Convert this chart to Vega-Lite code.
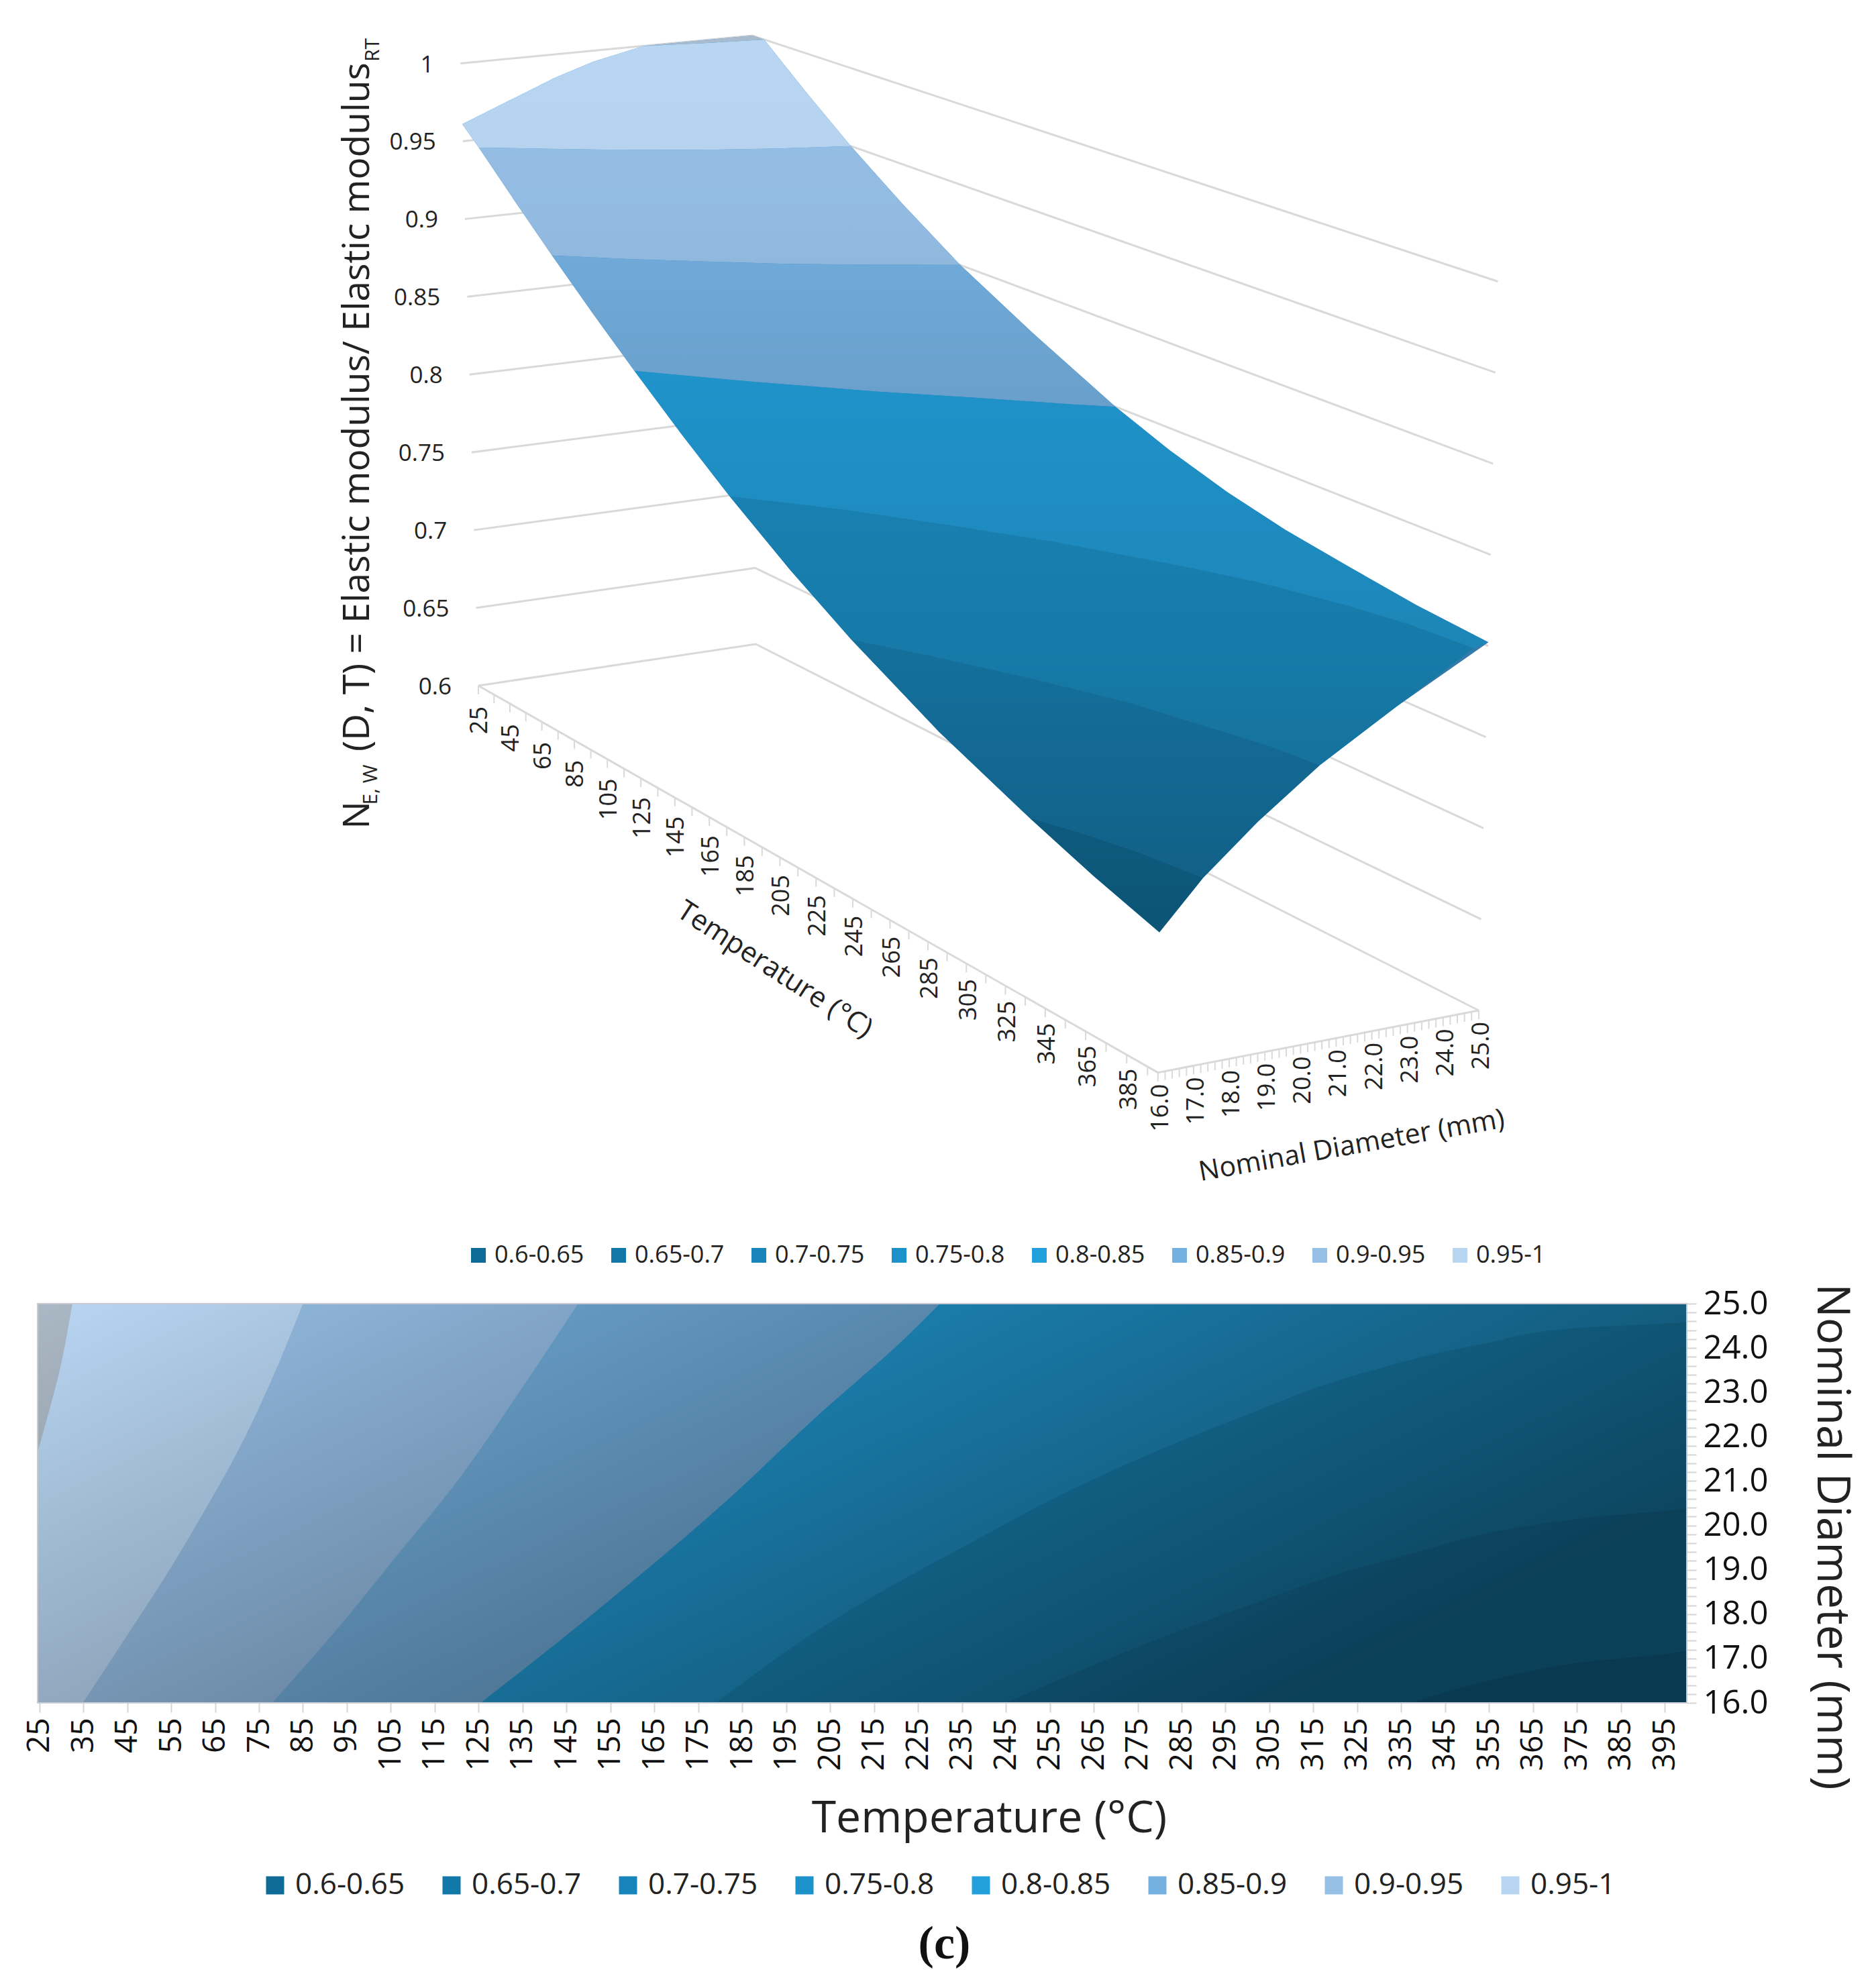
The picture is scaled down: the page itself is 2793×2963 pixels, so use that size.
{
"$schema":"https://vega.github.io/schema/vega-lite/v6.json",
"padding":{"left":35,"top":0,"right":0,"bottom":0},
"autosize":{"type":"pad"},
"background":"white",
"bounds":"flush",
"spacing":43,
"config":{"font":"Open Sans","view":{"stroke":null},"concat":{"spacing":43}},
"datasets":{
"contours":[
{"band":"0.65-0.7","diameter":16,"temperature":400},{"band":"0.65-0.7","diameter":25,"temperature":400},
{"band":"0.7-0.75","diameter":16,"temperature":337},{"band":"0.7-0.75","diameter":16.27,"temperature":346},{"band":"0.7-0.75","diameter":16.5,"temperature":355},{"band":"0.7-0.75","diameter":16.9,"temperature":375},{"band":"0.7-0.75","diameter":17.2,"temperature":400},{"band":"0.7-0.75","diameter":25,"temperature":400},
{"band":"0.75-0.8","diameter":16,"temperature":245},{"band":"0.75-0.8","diameter":17,"temperature":268.6},{"band":"0.75-0.8","diameter":18.17,"temperature":299.6},{"band":"0.75-0.8","diameter":19.22,"temperature":332},{"band":"0.75-0.8","diameter":20.2,"temperature":380},{"band":"0.75-0.8","diameter":20.4,"temperature":400},{"band":"0.75-0.8","diameter":25,"temperature":400},
{"band":"0.8-0.85","diameter":16,"temperature":179},{"band":"0.8-0.85","diameter":18,"temperature":208},{"band":"0.8-0.85","diameter":19.5,"temperature":235},{"band":"0.8-0.85","diameter":21,"temperature":264},{"band":"0.8-0.85","diameter":22.5,"temperature":300},{"band":"0.8-0.85","diameter":23.4,"temperature":325},{"band":"0.8-0.85","diameter":24.1,"temperature":354},{"band":"0.8-0.85","diameter":24.45,"temperature":375},{"band":"0.8-0.85","diameter":24.6,"temperature":400},{"band":"0.8-0.85","diameter":25,"temperature":400},
{"band":"0.85-0.9","diameter":16,"temperature":125.5},{"band":"0.85-0.9","diameter":18.2,"temperature":153.4},{"band":"0.85-0.9","diameter":20.5,"temperature":180.8},{"band":"0.85-0.9","diameter":22.4,"temperature":201.3},{"band":"0.85-0.9","diameter":24.2,"temperature":221.8},{"band":"0.85-0.9","diameter":25,"temperature":230},
{"band":"0.9-0.95","diameter":16,"temperature":78},{"band":"0.9-0.95","diameter":17.7,"temperature":93.1},{"band":"0.9-0.95","diameter":19.2,"temperature":105.4},{"band":"0.9-0.95","diameter":21.05,"temperature":120.5},{"band":"0.9-0.95","diameter":23,"temperature":134.2},{"band":"0.9-0.95","diameter":25,"temperature":147.6},
{"band":"0.95-1","diameter":16,"temperature":34.9},{"band":"0.95-1","diameter":17.6,"temperature":45.5},{"band":"0.95-1","diameter":18.9,"temperature":54},{"band":"0.95-1","diameter":20.4,"temperature":63},{"band":"0.95-1","diameter":21.6,"temperature":69.8},{"band":"0.95-1","diameter":23.2,"temperature":77.5},{"band":"0.95-1","diameter":25,"temperature":85},
{"band":"above 1","diameter":21.65,"temperature":24.6},{"band":"above 1","diameter":22.5,"temperature":27},{"band":"above 1","diameter":23.4,"temperature":29.4},{"band":"above 1","diameter":25,"temperature":32.5}
],
"surface3d":[
{"kind":"grid","line":"z0.6","seq":1,"temperature":25,"diameter":16,"ne":0.6},{"kind":"grid","line":"z0.6","seq":2,"temperature":25,"diameter":25,"ne":0.6},{"kind":"grid","line":"z0.6","seq":3,"temperature":400,"diameter":25,"ne":0.6},
{"kind":"grid","line":"z0.65","seq":1,"temperature":25,"diameter":16,"ne":0.65},{"kind":"grid","line":"z0.65","seq":2,"temperature":25,"diameter":25,"ne":0.65},{"kind":"grid","line":"z0.65","seq":3,"temperature":400,"diameter":25,"ne":0.65},
{"kind":"grid","line":"z0.7","seq":1,"temperature":25,"diameter":16,"ne":0.7},{"kind":"grid","line":"z0.7","seq":2,"temperature":25,"diameter":25,"ne":0.7},{"kind":"grid","line":"z0.7","seq":3,"temperature":400,"diameter":25,"ne":0.7},
{"kind":"grid","line":"z0.75","seq":1,"temperature":25,"diameter":16,"ne":0.75},{"kind":"grid","line":"z0.75","seq":2,"temperature":25,"diameter":25,"ne":0.75},{"kind":"grid","line":"z0.75","seq":3,"temperature":400,"diameter":25,"ne":0.75},
{"kind":"grid","line":"z0.8","seq":1,"temperature":25,"diameter":16,"ne":0.8},{"kind":"grid","line":"z0.8","seq":2,"temperature":25,"diameter":25,"ne":0.8},{"kind":"grid","line":"z0.8","seq":3,"temperature":400,"diameter":25,"ne":0.8},
{"kind":"grid","line":"z0.85","seq":1,"temperature":25,"diameter":16,"ne":0.85},{"kind":"grid","line":"z0.85","seq":2,"temperature":25,"diameter":25,"ne":0.85},{"kind":"grid","line":"z0.85","seq":3,"temperature":400,"diameter":25,"ne":0.85},
{"kind":"grid","line":"z0.9","seq":1,"temperature":25,"diameter":16,"ne":0.9},{"kind":"grid","line":"z0.9","seq":2,"temperature":25,"diameter":25,"ne":0.9},{"kind":"grid","line":"z0.9","seq":3,"temperature":400,"diameter":25,"ne":0.9},
{"kind":"grid","line":"z0.95","seq":1,"temperature":25,"diameter":16,"ne":0.95},{"kind":"grid","line":"z0.95","seq":2,"temperature":25,"diameter":25,"ne":0.95},{"kind":"grid","line":"z0.95","seq":3,"temperature":400,"diameter":25,"ne":0.95},
{"kind":"grid","line":"z1","seq":1,"temperature":25,"diameter":16,"ne":1},{"kind":"grid","line":"z1","seq":2,"temperature":25,"diameter":25,"ne":1},{"kind":"grid","line":"z1","seq":3,"temperature":400,"diameter":25,"ne":1},
{"kind":"grid","line":"axes","seq":1,"temperature":25,"diameter":16,"ne":0.6},{"kind":"grid","line":"axes","seq":2,"temperature":400,"diameter":16,"ne":0.6},{"kind":"grid","line":"axes","seq":3,"temperature":400,"diameter":25,"ne":0.6},

{"kind":"tick","temperature":25,"diameter":16,"ne":0.6},{"kind":"tick","temperature":35,"diameter":16,"ne":0.6},{"kind":"tick","temperature":45,"diameter":16,"ne":0.6},{"kind":"tick","temperature":55,"diameter":16,"ne":0.6},{"kind":"tick","temperature":65,"diameter":16,"ne":0.6},{"kind":"tick","temperature":75,"diameter":16,"ne":0.6},{"kind":"tick","temperature":85,"diameter":16,"ne":0.6},{"kind":"tick","temperature":95,"diameter":16,"ne":0.6},{"kind":"tick","temperature":105,"diameter":16,"ne":0.6},{"kind":"tick","temperature":115,"diameter":16,"ne":0.6},{"kind":"tick","temperature":125,"diameter":16,"ne":0.6},{"kind":"tick","temperature":135,"diameter":16,"ne":0.6},{"kind":"tick","temperature":145,"diameter":16,"ne":0.6},{"kind":"tick","temperature":155,"diameter":16,"ne":0.6},{"kind":"tick","temperature":165,"diameter":16,"ne":0.6},{"kind":"tick","temperature":175,"diameter":16,"ne":0.6},{"kind":"tick","temperature":185,"diameter":16,"ne":0.6},{"kind":"tick","temperature":195,"diameter":16,"ne":0.6},{"kind":"tick","temperature":205,"diameter":16,"ne":0.6},{"kind":"tick","temperature":215,"diameter":16,"ne":0.6},{"kind":"tick","temperature":225,"diameter":16,"ne":0.6},{"kind":"tick","temperature":235,"diameter":16,"ne":0.6},{"kind":"tick","temperature":245,"diameter":16,"ne":0.6},{"kind":"tick","temperature":255,"diameter":16,"ne":0.6},{"kind":"tick","temperature":265,"diameter":16,"ne":0.6},{"kind":"tick","temperature":275,"diameter":16,"ne":0.6},{"kind":"tick","temperature":285,"diameter":16,"ne":0.6},{"kind":"tick","temperature":295,"diameter":16,"ne":0.6},{"kind":"tick","temperature":305,"diameter":16,"ne":0.6},{"kind":"tick","temperature":315,"diameter":16,"ne":0.6},{"kind":"tick","temperature":325,"diameter":16,"ne":0.6},{"kind":"tick","temperature":335,"diameter":16,"ne":0.6},{"kind":"tick","temperature":345,"diameter":16,"ne":0.6},{"kind":"tick","temperature":355,"diameter":16,"ne":0.6},{"kind":"tick","temperature":365,"diameter":16,"ne":0.6},{"kind":"tick","temperature":375,"diameter":16,"ne":0.6},{"kind":"tick","temperature":385,"diameter":16,"ne":0.6},{"kind":"tick","temperature":395,"diameter":16,"ne":0.6},
{"kind":"tick","temperature":400,"diameter":16,"ne":0.6},{"kind":"tick","temperature":400,"diameter":16.2,"ne":0.6},{"kind":"tick","temperature":400,"diameter":16.4,"ne":0.6},{"kind":"tick","temperature":400,"diameter":16.6,"ne":0.6},{"kind":"tick","temperature":400,"diameter":16.8,"ne":0.6},{"kind":"tick","temperature":400,"diameter":17,"ne":0.6},{"kind":"tick","temperature":400,"diameter":17.2,"ne":0.6},{"kind":"tick","temperature":400,"diameter":17.4,"ne":0.6},{"kind":"tick","temperature":400,"diameter":17.6,"ne":0.6},{"kind":"tick","temperature":400,"diameter":17.8,"ne":0.6},{"kind":"tick","temperature":400,"diameter":18,"ne":0.6},{"kind":"tick","temperature":400,"diameter":18.2,"ne":0.6},{"kind":"tick","temperature":400,"diameter":18.4,"ne":0.6},{"kind":"tick","temperature":400,"diameter":18.6,"ne":0.6},{"kind":"tick","temperature":400,"diameter":18.8,"ne":0.6},{"kind":"tick","temperature":400,"diameter":19,"ne":0.6},{"kind":"tick","temperature":400,"diameter":19.2,"ne":0.6},{"kind":"tick","temperature":400,"diameter":19.4,"ne":0.6},{"kind":"tick","temperature":400,"diameter":19.6,"ne":0.6},{"kind":"tick","temperature":400,"diameter":19.8,"ne":0.6},{"kind":"tick","temperature":400,"diameter":20,"ne":0.6},{"kind":"tick","temperature":400,"diameter":20.2,"ne":0.6},{"kind":"tick","temperature":400,"diameter":20.4,"ne":0.6},{"kind":"tick","temperature":400,"diameter":20.6,"ne":0.6},{"kind":"tick","temperature":400,"diameter":20.8,"ne":0.6},{"kind":"tick","temperature":400,"diameter":21,"ne":0.6},{"kind":"tick","temperature":400,"diameter":21.2,"ne":0.6},{"kind":"tick","temperature":400,"diameter":21.4,"ne":0.6},{"kind":"tick","temperature":400,"diameter":21.6,"ne":0.6},{"kind":"tick","temperature":400,"diameter":21.8,"ne":0.6},{"kind":"tick","temperature":400,"diameter":22,"ne":0.6},{"kind":"tick","temperature":400,"diameter":22.2,"ne":0.6},{"kind":"tick","temperature":400,"diameter":22.4,"ne":0.6},{"kind":"tick","temperature":400,"diameter":22.6,"ne":0.6},{"kind":"tick","temperature":400,"diameter":22.8,"ne":0.6},{"kind":"tick","temperature":400,"diameter":23,"ne":0.6},{"kind":"tick","temperature":400,"diameter":23.2,"ne":0.6},{"kind":"tick","temperature":400,"diameter":23.4,"ne":0.6},{"kind":"tick","temperature":400,"diameter":23.6,"ne":0.6},{"kind":"tick","temperature":400,"diameter":23.8,"ne":0.6},{"kind":"tick","temperature":400,"diameter":24,"ne":0.6},{"kind":"tick","temperature":400,"diameter":24.2,"ne":0.6},{"kind":"tick","temperature":400,"diameter":24.4,"ne":0.6},{"kind":"tick","temperature":400,"diameter":24.6,"ne":0.6},{"kind":"tick","temperature":400,"diameter":24.8,"ne":0.6},{"kind":"tick","temperature":400,"diameter":25,"ne":0.6},

{"kind":"outline","seq":1,"temperature":25,"diameter":16,"ne":0.961},{"kind":"outline","seq":2,"temperature":25,"diameter":17.7,"ne":0.975},{"kind":"outline","seq":3,"temperature":25,"diameter":18.9,"ne":0.985},{"kind":"outline","seq":4,"temperature":25,"diameter":20.1,"ne":0.993},{"kind":"outline","seq":5,"temperature":25,"diameter":21.65,"ne":1},{"kind":"outline","seq":6,"temperature":25,"diameter":25,"ne":1},{"kind":"outline","seq":7,"temperature":32.5,"diameter":25,"ne":1},{"kind":"outline","seq":8,"temperature":58,"diameter":25,"ne":0.975},{"kind":"outline","seq":9,"temperature":85,"diameter":25,"ne":0.95},{"kind":"outline","seq":10,"temperature":115,"diameter":25,"ne":0.925},{"kind":"outline","seq":11,"temperature":147.6,"diameter":25,"ne":0.9},{"kind":"outline","seq":12,"temperature":187,"diameter":25,"ne":0.875},{"kind":"outline","seq":13,"temperature":230,"diameter":25,"ne":0.85},{"kind":"outline","seq":13.5,"temperature":257,"diameter":25,"ne":0.837},{"kind":"outline","seq":14,"temperature":285,"diameter":25,"ne":0.826},{"kind":"outline","seq":14.5,"temperature":312,"diameter":25,"ne":0.818},{"kind":"outline","seq":15,"temperature":340,"diameter":25,"ne":0.812},{"kind":"outline","seq":15.5,"temperature":370,"diameter":25,"ne":0.806},{"kind":"outline","seq":16,"temperature":400,"diameter":25,"ne":0.802},{"kind":"outline","seq":17,"temperature":400,"diameter":22.5,"ne":0.775},{"kind":"outline","seq":18,"temperature":400,"diameter":20.4,"ne":0.75},{"kind":"outline","seq":19,"temperature":400,"diameter":18.7,"ne":0.725},{"kind":"outline","seq":20,"temperature":400,"diameter":17.2,"ne":0.7},{"kind":"outline","seq":21,"temperature":400,"diameter":16,"ne":0.675},{"kind":"outline","seq":22,"temperature":368.5,"diameter":16,"ne":0.6865},{"kind":"outline","seq":23,"temperature":337,"diameter":16,"ne":0.7},{"kind":"outline","seq":24,"temperature":291,"diameter":16,"ne":0.7222},{"kind":"outline","seq":25,"temperature":245,"diameter":16,"ne":0.75},{"kind":"outline","seq":26,"temperature":212,"diameter":16,"ne":0.7734},{"kind":"outline","seq":27,"temperature":179,"diameter":16,"ne":0.8},{"kind":"outline","seq":28,"temperature":152.25,"diameter":16,"ne":0.8241},{"kind":"outline","seq":29,"temperature":125.5,"diameter":16,"ne":0.85},{"kind":"outline","seq":30,"temperature":101.75,"diameter":16,"ne":0.8743},{"kind":"outline","seq":31,"temperature":78,"diameter":16,"ne":0.9},{"kind":"outline","seq":32,"temperature":56.45,"diameter":16,"ne":0.9245},{"kind":"outline","seq":33,"temperature":34.9,"diameter":16,"ne":0.95},

{"kind":"cap","seq":1,"temperature":25,"diameter":21.65,"ne":1},{"kind":"cap","seq":2,"temperature":25,"diameter":25,"ne":1},{"kind":"cap","seq":3,"temperature":32.5,"diameter":25,"ne":1},{"kind":"cap","seq":4,"temperature":29.4,"diameter":23.4,"ne":1},{"kind":"cap","seq":5,"temperature":27,"diameter":22.5,"ne":1},

{"kind":"band","band":"0.95-1","seq":1,"temperature":25,"diameter":16,"ne":0.961},{"kind":"band","band":"0.95-1","seq":2,"temperature":25,"diameter":17.7,"ne":0.975},{"kind":"band","band":"0.95-1","seq":3,"temperature":25,"diameter":18.9,"ne":0.985},{"kind":"band","band":"0.95-1","seq":4,"temperature":25,"diameter":20.1,"ne":0.993},{"kind":"band","band":"0.95-1","seq":5,"temperature":25,"diameter":21.65,"ne":1},{"kind":"band","band":"0.95-1","seq":6,"temperature":27,"diameter":22.5,"ne":1},{"kind":"band","band":"0.95-1","seq":7,"temperature":29.4,"diameter":23.4,"ne":1},{"kind":"band","band":"0.95-1","seq":8,"temperature":32.5,"diameter":25,"ne":1},{"kind":"band","band":"0.95-1","seq":9,"temperature":58,"diameter":25,"ne":0.975},{"kind":"band","band":"0.95-1","seq":10,"temperature":85,"diameter":25,"ne":0.95},{"kind":"band","band":"0.95-1","seq":11,"temperature":77.5,"diameter":23.2,"ne":0.95},{"kind":"band","band":"0.95-1","seq":12,"temperature":69.8,"diameter":21.6,"ne":0.95},{"kind":"band","band":"0.95-1","seq":13,"temperature":63,"diameter":20.4,"ne":0.95},{"kind":"band","band":"0.95-1","seq":14,"temperature":54,"diameter":18.9,"ne":0.95},{"kind":"band","band":"0.95-1","seq":15,"temperature":45.5,"diameter":17.6,"ne":0.95},{"kind":"band","band":"0.95-1","seq":16,"temperature":34.9,"diameter":16,"ne":0.95},

{"kind":"band","band":"0.9-0.95","seq":1,"temperature":34.9,"diameter":16,"ne":0.95},{"kind":"band","band":"0.9-0.95","seq":2,"temperature":45.5,"diameter":17.6,"ne":0.95},{"kind":"band","band":"0.9-0.95","seq":3,"temperature":54,"diameter":18.9,"ne":0.95},{"kind":"band","band":"0.9-0.95","seq":4,"temperature":63,"diameter":20.4,"ne":0.95},{"kind":"band","band":"0.9-0.95","seq":5,"temperature":69.8,"diameter":21.6,"ne":0.95},{"kind":"band","band":"0.9-0.95","seq":6,"temperature":77.5,"diameter":23.2,"ne":0.95},{"kind":"band","band":"0.9-0.95","seq":7,"temperature":85,"diameter":25,"ne":0.95},{"kind":"band","band":"0.9-0.95","seq":8,"temperature":115,"diameter":25,"ne":0.925},{"kind":"band","band":"0.9-0.95","seq":9,"temperature":147.6,"diameter":25,"ne":0.9},{"kind":"band","band":"0.9-0.95","seq":10,"temperature":134.2,"diameter":23,"ne":0.9},{"kind":"band","band":"0.9-0.95","seq":11,"temperature":120.5,"diameter":21.05,"ne":0.9},{"kind":"band","band":"0.9-0.95","seq":12,"temperature":105.4,"diameter":19.2,"ne":0.9},{"kind":"band","band":"0.9-0.95","seq":13,"temperature":93.1,"diameter":17.7,"ne":0.9},{"kind":"band","band":"0.9-0.95","seq":14,"temperature":78,"diameter":16,"ne":0.9},{"kind":"band","band":"0.9-0.95","seq":15,"temperature":56.45,"diameter":16,"ne":0.9245},

{"kind":"band","band":"0.85-0.9","seq":1,"temperature":78,"diameter":16,"ne":0.9},{"kind":"band","band":"0.85-0.9","seq":2,"temperature":93.1,"diameter":17.7,"ne":0.9},{"kind":"band","band":"0.85-0.9","seq":3,"temperature":105.4,"diameter":19.2,"ne":0.9},{"kind":"band","band":"0.85-0.9","seq":4,"temperature":120.5,"diameter":21.05,"ne":0.9},{"kind":"band","band":"0.85-0.9","seq":5,"temperature":134.2,"diameter":23,"ne":0.9},{"kind":"band","band":"0.85-0.9","seq":6,"temperature":147.6,"diameter":25,"ne":0.9},{"kind":"band","band":"0.85-0.9","seq":7,"temperature":187,"diameter":25,"ne":0.875},{"kind":"band","band":"0.85-0.9","seq":8,"temperature":230,"diameter":25,"ne":0.85},{"kind":"band","band":"0.85-0.9","seq":9,"temperature":221.8,"diameter":24.2,"ne":0.85},{"kind":"band","band":"0.85-0.9","seq":10,"temperature":201.3,"diameter":22.4,"ne":0.85},{"kind":"band","band":"0.85-0.9","seq":11,"temperature":180.8,"diameter":20.5,"ne":0.85},{"kind":"band","band":"0.85-0.9","seq":12,"temperature":153.4,"diameter":18.2,"ne":0.85},{"kind":"band","band":"0.85-0.9","seq":13,"temperature":125.5,"diameter":16,"ne":0.85},{"kind":"band","band":"0.85-0.9","seq":14,"temperature":101.75,"diameter":16,"ne":0.8743},

{"kind":"band","band":"0.8-0.85","seq":1,"temperature":125.5,"diameter":16,"ne":0.85},{"kind":"band","band":"0.8-0.85","seq":2,"temperature":153.4,"diameter":18.2,"ne":0.85},{"kind":"band","band":"0.8-0.85","seq":3,"temperature":180.8,"diameter":20.5,"ne":0.85},{"kind":"band","band":"0.8-0.85","seq":4,"temperature":201.3,"diameter":22.4,"ne":0.85},{"kind":"band","band":"0.8-0.85","seq":5,"temperature":221.8,"diameter":24.2,"ne":0.85},{"kind":"band","band":"0.8-0.85","seq":6,"temperature":230,"diameter":25,"ne":0.85},{"kind":"band","band":"0.8-0.85","seq":6.5,"temperature":257,"diameter":25,"ne":0.837},{"kind":"band","band":"0.8-0.85","seq":7,"temperature":285,"diameter":25,"ne":0.826},{"kind":"band","band":"0.8-0.85","seq":7.5,"temperature":312,"diameter":25,"ne":0.818},{"kind":"band","band":"0.8-0.85","seq":8,"temperature":340,"diameter":25,"ne":0.812},{"kind":"band","band":"0.8-0.85","seq":8.5,"temperature":370,"diameter":25,"ne":0.806},{"kind":"band","band":"0.8-0.85","seq":9,"temperature":400,"diameter":25,"ne":0.802},{"kind":"band","band":"0.8-0.85","seq":10,"temperature":400,"diameter":24.6,"ne":0.8},{"kind":"band","band":"0.8-0.85","seq":11,"temperature":375,"diameter":24.45,"ne":0.8},{"kind":"band","band":"0.8-0.85","seq":12,"temperature":354,"diameter":24.1,"ne":0.8},{"kind":"band","band":"0.8-0.85","seq":13,"temperature":325,"diameter":23.4,"ne":0.8},{"kind":"band","band":"0.8-0.85","seq":14,"temperature":300,"diameter":22.5,"ne":0.8},{"kind":"band","band":"0.8-0.85","seq":15,"temperature":264,"diameter":21,"ne":0.8},{"kind":"band","band":"0.8-0.85","seq":16,"temperature":235,"diameter":19.5,"ne":0.8},{"kind":"band","band":"0.8-0.85","seq":17,"temperature":208,"diameter":18,"ne":0.8},{"kind":"band","band":"0.8-0.85","seq":18,"temperature":179,"diameter":16,"ne":0.8},{"kind":"band","band":"0.8-0.85","seq":19,"temperature":152.25,"diameter":16,"ne":0.8241},

{"kind":"band","band":"0.75-0.8","seq":1,"temperature":179,"diameter":16,"ne":0.8},{"kind":"band","band":"0.75-0.8","seq":2,"temperature":208,"diameter":18,"ne":0.8},{"kind":"band","band":"0.75-0.8","seq":3,"temperature":235,"diameter":19.5,"ne":0.8},{"kind":"band","band":"0.75-0.8","seq":4,"temperature":264,"diameter":21,"ne":0.8},{"kind":"band","band":"0.75-0.8","seq":5,"temperature":300,"diameter":22.5,"ne":0.8},{"kind":"band","band":"0.75-0.8","seq":6,"temperature":325,"diameter":23.4,"ne":0.8},{"kind":"band","band":"0.75-0.8","seq":7,"temperature":354,"diameter":24.1,"ne":0.8},{"kind":"band","band":"0.75-0.8","seq":8,"temperature":375,"diameter":24.45,"ne":0.8},{"kind":"band","band":"0.75-0.8","seq":9,"temperature":400,"diameter":24.6,"ne":0.8},{"kind":"band","band":"0.75-0.8","seq":10,"temperature":400,"diameter":22.5,"ne":0.775},{"kind":"band","band":"0.75-0.8","seq":11,"temperature":400,"diameter":20.4,"ne":0.75},{"kind":"band","band":"0.75-0.8","seq":12,"temperature":380,"diameter":20.2,"ne":0.75},{"kind":"band","band":"0.75-0.8","seq":13,"temperature":332,"diameter":19.22,"ne":0.75},{"kind":"band","band":"0.75-0.8","seq":14,"temperature":299.6,"diameter":18.17,"ne":0.75},{"kind":"band","band":"0.75-0.8","seq":15,"temperature":268.6,"diameter":17,"ne":0.75},{"kind":"band","band":"0.75-0.8","seq":16,"temperature":245,"diameter":16,"ne":0.75},{"kind":"band","band":"0.75-0.8","seq":17,"temperature":212,"diameter":16,"ne":0.7734},

{"kind":"band","band":"0.7-0.75","seq":1,"temperature":245,"diameter":16,"ne":0.75},{"kind":"band","band":"0.7-0.75","seq":2,"temperature":268.6,"diameter":17,"ne":0.75},{"kind":"band","band":"0.7-0.75","seq":3,"temperature":299.6,"diameter":18.17,"ne":0.75},{"kind":"band","band":"0.7-0.75","seq":4,"temperature":332,"diameter":19.22,"ne":0.75},{"kind":"band","band":"0.7-0.75","seq":5,"temperature":380,"diameter":20.2,"ne":0.75},{"kind":"band","band":"0.7-0.75","seq":6,"temperature":400,"diameter":20.4,"ne":0.75},{"kind":"band","band":"0.7-0.75","seq":7,"temperature":400,"diameter":18.7,"ne":0.725},{"kind":"band","band":"0.7-0.75","seq":8,"temperature":400,"diameter":17.2,"ne":0.7},{"kind":"band","band":"0.7-0.75","seq":9,"temperature":375,"diameter":16.9,"ne":0.7},{"kind":"band","band":"0.7-0.75","seq":10,"temperature":355,"diameter":16.5,"ne":0.7},{"kind":"band","band":"0.7-0.75","seq":11,"temperature":346,"diameter":16.27,"ne":0.7},{"kind":"band","band":"0.7-0.75","seq":12,"temperature":337,"diameter":16,"ne":0.7},{"kind":"band","band":"0.7-0.75","seq":13,"temperature":291,"diameter":16,"ne":0.7222},

{"kind":"band","band":"0.65-0.7","seq":1,"temperature":337,"diameter":16,"ne":0.7},{"kind":"band","band":"0.65-0.7","seq":2,"temperature":346,"diameter":16.27,"ne":0.7},{"kind":"band","band":"0.65-0.7","seq":3,"temperature":355,"diameter":16.5,"ne":0.7},{"kind":"band","band":"0.65-0.7","seq":4,"temperature":375,"diameter":16.9,"ne":0.7},{"kind":"band","band":"0.65-0.7","seq":5,"temperature":400,"diameter":17.2,"ne":0.7},{"kind":"band","band":"0.65-0.7","seq":6,"temperature":400,"diameter":16,"ne":0.675},{"kind":"band","band":"0.65-0.7","seq":7,"temperature":368.5,"diameter":16,"ne":0.6865},

{"kind":"tlabel","label":"25","temperature":25,"diameter":16,"ne":0.6},{"kind":"tlabel","label":"45","temperature":45,"diameter":16,"ne":0.6},{"kind":"tlabel","label":"65","temperature":65,"diameter":16,"ne":0.6},{"kind":"tlabel","label":"85","temperature":85,"diameter":16,"ne":0.6},{"kind":"tlabel","label":"105","temperature":105,"diameter":16,"ne":0.6},{"kind":"tlabel","label":"125","temperature":125,"diameter":16,"ne":0.6},{"kind":"tlabel","label":"145","temperature":145,"diameter":16,"ne":0.6},{"kind":"tlabel","label":"165","temperature":165,"diameter":16,"ne":0.6},{"kind":"tlabel","label":"185","temperature":185,"diameter":16,"ne":0.6},{"kind":"tlabel","label":"205","temperature":205,"diameter":16,"ne":0.6},{"kind":"tlabel","label":"225","temperature":225,"diameter":16,"ne":0.6},{"kind":"tlabel","label":"245","temperature":245,"diameter":16,"ne":0.6},{"kind":"tlabel","label":"265","temperature":265,"diameter":16,"ne":0.6},{"kind":"tlabel","label":"285","temperature":285,"diameter":16,"ne":0.6},{"kind":"tlabel","label":"305","temperature":305,"diameter":16,"ne":0.6},{"kind":"tlabel","label":"325","temperature":325,"diameter":16,"ne":0.6},{"kind":"tlabel","label":"345","temperature":345,"diameter":16,"ne":0.6},{"kind":"tlabel","label":"365","temperature":365,"diameter":16,"ne":0.6},{"kind":"tlabel","label":"385","temperature":385,"diameter":16,"ne":0.6},
{"kind":"dlabel","label":"16.0","temperature":400,"diameter":16,"ne":0.6},{"kind":"dlabel","label":"17.0","temperature":400,"diameter":17,"ne":0.6},{"kind":"dlabel","label":"18.0","temperature":400,"diameter":18,"ne":0.6},{"kind":"dlabel","label":"19.0","temperature":400,"diameter":19,"ne":0.6},{"kind":"dlabel","label":"20.0","temperature":400,"diameter":20,"ne":0.6},{"kind":"dlabel","label":"21.0","temperature":400,"diameter":21,"ne":0.6},{"kind":"dlabel","label":"22.0","temperature":400,"diameter":22,"ne":0.6},{"kind":"dlabel","label":"23.0","temperature":400,"diameter":23,"ne":0.6},{"kind":"dlabel","label":"24.0","temperature":400,"diameter":24,"ne":0.6},{"kind":"dlabel","label":"25.0","temperature":400,"diameter":25,"ne":0.6},
{"kind":"zlabel","label":"0.6","temperature":25,"diameter":16,"ne":0.6},{"kind":"zlabel","label":"0.65","temperature":25,"diameter":16,"ne":0.65},{"kind":"zlabel","label":"0.7","temperature":25,"diameter":16,"ne":0.7},{"kind":"zlabel","label":"0.75","temperature":25,"diameter":16,"ne":0.75},{"kind":"zlabel","label":"0.8","temperature":25,"diameter":16,"ne":0.8},{"kind":"zlabel","label":"0.85","temperature":25,"diameter":16,"ne":0.85},{"kind":"zlabel","label":"0.9","temperature":25,"diameter":16,"ne":0.9},{"kind":"zlabel","label":"0.95","temperature":25,"diameter":16,"ne":0.95},{"kind":"zlabel","label":"1","temperature":25,"diameter":16,"ne":1},
{"kind":"ttitle","label":"Temperature (°C)","temperature":282,"diameter":11.48,"ne":0.6},
{"kind":"dtitle","label":"Nominal Diameter (mm)","temperature":466.8,"diameter":17.3,"ne":0.6},
{"kind":"ztitle","label":"N","temperature":25,"diameter":12.31,"ne":0.5196},
{"kind":"ztitle","label":"(D, T) = Elastic modulus/ Elastic modulus","temperature":25,"diameter":12.4,"ne":0.5687},
{"kind":"zsub","label":"E, W","temperature":25,"diameter":12.6,"ne":0.5341},
{"kind":"zsub","label":"RT","temperature":25,"diameter":13.49,"ne":1.006}
]
},
"vconcat":[
{
"width":2458,"height":1900,
"data":{"name":"surface3d"},
"transform":[
{"calculate":"(datum.temperature-25)/375","as":"s"},
{"calculate":"(datum.diameter-16)/9","as":"v"},
{"calculate":"(datum.ne-0.6)/0.4","as":"h"},
{"calculate":"datum.s/(datum.s+(1.157+0.093*datum.v)*(1-datum.s))","as":"u"},
{"calculate":"710.5+datum.u*1012.9+datum.v*413.5+datum.u*datum.v*64.6","as":"fx"},
{"calculate":"1022+datum.u*576.6-datum.v*62-datum.u*datum.v*30.6","as":"fy"},
{"calculate":"684+datum.u*1050.8+datum.v*434.7+datum.u*datum.v*60.5","as":"tx"},
{"calculate":"94.5+datum.u*389.3-datum.v*41.5-datum.u*datum.v*22.8","as":"ty"},
{"calculate":"datum.fx+datum.h*(datum.tx-datum.fx)","as":"sx"},
{"calculate":"datum.fy+datum.h*(datum.ty-datum.fy)","as":"sy"}
],
"encoding":{
"x":{"field":"sx","type":"quantitative","scale":{"domain":[53.6,2511.6],"nice":false,"zero":false},"axis":null},
"y":{"field":"sy","type":"quantitative","scale":{"domain":[1900,0],"nice":false,"zero":false},"axis":null}
},
"layer":[
{"transform":[{"filter":"datum.kind=='grid'"}],
 "mark":{"type":"line","stroke":"#d9d9d9","strokeWidth":3,"interpolate":"linear"},
 "encoding":{"detail":{"field":"line","type":"nominal"},"order":{"field":"seq","type":"quantitative"}}},
{"transform":[{"filter":"datum.kind=='tick'"},{"calculate":"datum.sy+13","as":"sy2"}],
 "mark":{"type":"rule","stroke":"#d9d9d9","strokeWidth":2},
 "encoding":{"y2":{"field":"sy2"}}},
{"transform":[{"filter":"datum.kind=='outline'"}],
 "mark":{"type":"line","filled":true,"fill":"#3f93cc","stroke":"transparent","strokeWidth":0},
 "encoding":{"order":{"field":"seq","type":"quantitative"}}},
{"transform":[{"filter":"datum.kind=='band'"}],
 "mark":{"type":"line","filled":true,"stroke":"transparent","strokeWidth":0},
 "encoding":{
 "fill":{"field":"band","type":"nominal","scale":{"domain":["0.6-0.65","0.65-0.7","0.7-0.75","0.75-0.8","0.8-0.85","0.85-0.9","0.9-0.95","0.95-1"],"range":["#0e6a97","#1278a8","#1885ba","#1b92c9","#22a0dc","#74b0e0","#96bfe6","#b8d5f2"]},
  "legend":{"title":null,"orient":"none","legendX":639,"legendY":1853,"direction":"horizontal","columns":8,"gridAlign":"all","columnPadding":33,"symbolType":"square","symbolSize":484,"symbolStrokeWidth":0,"labelFontSize":36,"labelFont":"Open Sans","labelColor":"#222222","labelOffset":6,"labelLimit":500}},
 "order":{"field":"seq","type":"quantitative"}}},
{"transform":[{"filter":"datum.kind=='cap'"}],
 "mark":{"type":"line","filled":true,"fill":"#a9bccf","stroke":"transparent","strokeWidth":0},
 "encoding":{"order":{"field":"seq","type":"quantitative"}}},
{"transform":[{"filter":"datum.kind=='outline'"}],
 "mark":{"type":"line","filled":true,"stroke":"transparent","strokeWidth":0,
 "fill":{"gradient":"linear","x1":0,"y1":0,"x2":0,"y2":1,"stops":[{"offset":0,"color":"rgba(0,0,0,0)"},{"offset":0.2,"color":"rgba(0,0,0,0.02)"},{"offset":0.4,"color":"rgba(0,0,0,0.09)"},{"offset":0.7,"color":"rgba(0,0,0,0.17)"},{"offset":1,"color":"rgba(0,0,0,0.3)"}]}},
 "encoding":{"order":{"field":"seq","type":"quantitative"}}},
{"transform":[{"filter":"datum.kind=='tlabel'"},{"calculate":"datum.sy+31-11*datum.u","as":"sy"},{"calculate":"datum.sx+2+2*datum.u","as":"sx"}],
 "mark":{"type":"text","angle":270,"align":"right","baseline":"middle","fontSize":36,"color":"#222222"},
 "encoding":{"text":{"field":"label"}}},
{"transform":[{"filter":"datum.kind=='dlabel'"},{"calculate":"datum.sy+17","as":"sy"},{"calculate":"datum.sx+4","as":"sx"}],
 "mark":{"type":"text","angle":270,"align":"right","baseline":"middle","fontSize":36,"color":"#222222"},
 "encoding":{"text":{"field":"label"}}},
{"transform":[{"filter":"datum.kind=='zlabel'"},{"calculate":"datum.sx-40","as":"sx"},{"calculate":"datum.sy+2","as":"sy"}],
 "mark":{"type":"text","align":"right","baseline":"middle","fontSize":35,"color":"#222222"},
 "encoding":{"text":{"field":"label"}}},
{"transform":[{"filter":"datum.kind=='ttitle'"}],
 "mark":{"type":"text","angle":33,"align":"center","baseline":"middle","fontSize":42,"color":"#222222"},
 "encoding":{"text":{"field":"label"}}},
{"transform":[{"filter":"datum.kind=='dtitle'"}],
 "mark":{"type":"text","angle":350,"align":"center","baseline":"middle","fontSize":41,"color":"#222222"},
 "encoding":{"text":{"field":"label"}}},
{"transform":[{"filter":"datum.kind=='ztitle'"}],
 "mark":{"type":"text","angle":270,"align":"left","baseline":"alphabetic","fontSize":55,"color":"#222222"},
 "encoding":{"text":{"field":"label"}}},
{"transform":[{"filter":"datum.kind=='zsub'"}],
 "mark":{"type":"text","angle":270,"align":"left","baseline":"alphabetic","fontSize":30,"color":"#222222"},
 "encoding":{"text":{"field":"label"}}}
]
},
{
"width":2458,"height":595,
"encoding":{
"y":{"field":"diameter","type":"quantitative","scale":{"domain":[16,25],"nice":false,"zero":false},
 "axis":{"orient":"right","title":"Nominal Diameter (mm)","titleFontSize":67,"titleFontWeight":"normal","titleColor":"#222222","titlePadding":60,"titleY":347,
 "values":[16,16.2,16.4,16.6,16.8,17,17.2,17.4,17.6,17.8,18,18.2,18.4,18.6,18.8,19,19.2,19.4,19.6,19.8,20,20.2,20.4,20.6,20.8,21,21.2,21.4,21.6,21.8,22,22.2,22.4,22.6,22.8,23,23.2,23.4,23.6,23.8,24,24.2,24.4,24.6,24.8,25],
 "labelExpr":"abs(round(datum.value)-datum.value)<0.01?format(datum.value,'.1f'):''",
 "labelOverlap":false,"labelFontSize":49,"labelColor":"#111111","labelPadding":10,"tickColor":"#d5d5d5","tickSize":14,"tickWidth":2,"domain":false,"grid":false}}
},
"layer":[
{"data":{"name":"contours"},"transform":[{"filter":"datum.band!='above 1'"}],
 "mark":{"type":"area","orient":"horizontal","interpolate":"monotone","clip":true},
 "encoding":{
 "x":{"field":"temperature","type":"quantitative","stack":null,"scale":{"domain":[24.6,400],"nice":false,"zero":false},
  "axis":{"orient":"bottom","title":"Temperature (°C)","titleFontSize":66,"titleFontWeight":"normal","titleColor":"#222222","titlePadding":40,"titleX":1418,
  "values":[25,35,45,55,65,75,85,95,105,115,125,135,145,155,165,175,185,195,205,215,225,235,245,255,265,275,285,295,305,315,325,335,345,355,365,375,385,395],
  "labelAngle":-90,"labelAlign":"right","labelBaseline":"middle","labelOverlap":false,"labelFontSize":46,"labelColor":"#111111","labelPadding":8,"tickColor":"#d5d5d5","tickSize":14,"tickWidth":2,"domain":false,"grid":false}},
 "x2":{"datum":24.6},
 "fill":{"field":"band","type":"nominal","scale":{"domain":["0.6-0.65","0.65-0.7","0.7-0.75","0.75-0.8","0.8-0.85","0.85-0.9","0.9-0.95","0.95-1"],"range":["#0e6a97","#1278a8","#1885ba","#1b92c9","#22a0dc","#74b0e0","#96bfe6","#b8d5f2"]},
  "legend":{"title":null,"orient":"none","legendX":332,"legendY":845,"direction":"horizontal","columns":8,"gridAlign":"all","columnPadding":47,"symbolType":"square","symbolSize":729,"symbolStrokeWidth":0,"labelFontSize":44,"labelFont":"Open Sans","labelColor":"#222222","labelOffset":8,"labelLimit":500}}}},
{"data":{"name":"contours"},"transform":[{"filter":"datum.band=='above 1'"}],
 "mark":{"type":"area","orient":"horizontal","interpolate":"monotone","fill":"#aab7c4"},
 "encoding":{"x":{"field":"temperature","type":"quantitative","stack":null},"x2":{"datum":24.6}}},
{"data":{"values":[{"tmin":24.6,"tmax":400,"dmin":16,"dmax":25}]},
 "mark":{"type":"rect","stroke":"#c8ccd2","strokeWidth":2,"fill":{"gradient":"linear","x1":0,"y1":0,"x2":1,"y2":0.5,"stops":[{"offset":0,"color":"rgba(0,0,0,0)"},{"offset":1,"color":"rgba(0,0,0,0.52)"}]}},
 "encoding":{"x":{"field":"tmin","type":"quantitative"},"x2":{"field":"tmax"},"y":{"field":"dmin","type":"quantitative"},"y2":{"field":"dmax"}}},
{"data":{"values":[{"label":"(c)","temperature":231,"diameter":10.55}]},
 "mark":{"type":"text","font":"Liberation Serif","fontWeight":"bold","fontSize":70,"color":"#111111","align":"center","baseline":"middle"},
 "encoding":{"x":{"field":"temperature","type":"quantitative"},"text":{"field":"label"}}}
],
"resolve":{"scale":{"fill":"independent"}}
}
],
"resolve":{"scale":{"fill":"independent","x":"independent","y":"independent"},"legend":{"fill":"independent"}}
}
